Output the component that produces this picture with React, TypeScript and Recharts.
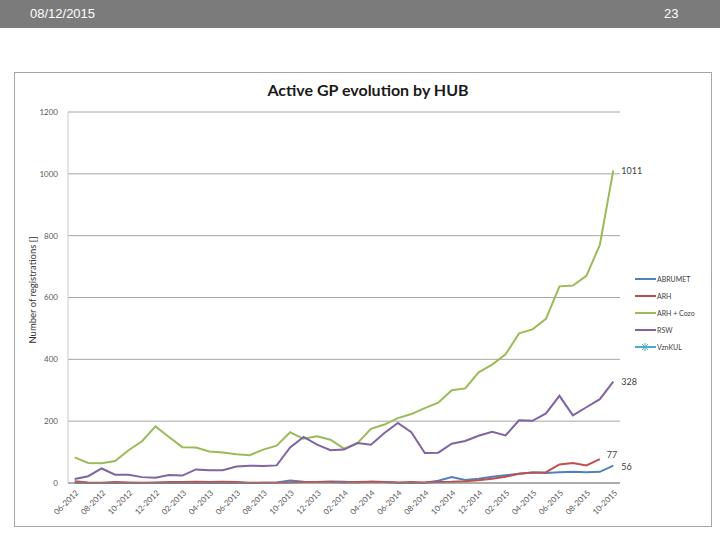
import React from "react";
import { LineChart, Line, XAxis, YAxis, CartesianGrid, Legend, LabelList } from "recharts";

const MONTHS = [
  "06-2012", "07-2012", "08-2012", "09-2012", "10-2012", "11-2012", "12-2012",
  "01-2013", "02-2013", "03-2013", "04-2013", "05-2013", "06-2013", "07-2013",
  "08-2013", "09-2013", "10-2013", "11-2013", "12-2013", "01-2014", "02-2014",
  "03-2014", "04-2014", "05-2014", "06-2014", "07-2014", "08-2014", "09-2014",
  "10-2014", "11-2014", "12-2014", "01-2015", "02-2015", "03-2015", "04-2015",
  "05-2015", "06-2015", "07-2015", "08-2015", "09-2015", "10-2015",
];

const ABRUMET = [
  0, 0, 0, 0, 0, 0, 0, 0, 0, 0, 0, 0, 0, 0, 1, 2, 8, 4, 3, 5, 4,
  2, 4, 3, 1, 0, 1, 7, 19, 10, 14, 20, 25, 30, 34, 32, 35, 36, 35, 36, 56,
];
const ARH = [
  6, 2, 1, 3, 2, 1, 2, 3, 3, 4, 3, 4, 3, 1, 1, 1, 2, 3, 3, 3, 2,
  3, 4, 3, 2, 3, 2, 3, 4, 6, 9, 14, 20, 30, 34, 35, 60, 65, 57, 77, null,
];
const ARH_COZO = [
  83, 65, 64, 71, 106, 135, 183, 149, 116, 115, 102, 99, 93, 90, 108, 121, 164, 143, 151, 140, 111,
  129, 175, 189, 210, 223, 242, 260, 300, 306, 358, 383, 416, 484, 497, 531, 636, 639, 670, 770, 1011,
];
const RSW = [
  13, 22, 47, 27, 27, 19, 17, 26, 24, 44, 41, 41, 53, 56, 55, 57, 115, 149, 124, 106, 108,
  129, 124, 162, 194, 164, 97, 98, 127, 136, 153, 166, 154, 203, 201, 225, 282, 219, 245, 271, 328,
];
const VZNKUL: (number | null)[] = MONTHS.map(() => null);

const Y_TICKS = [0, 200, 400, 600, 800, 1000, 1200];

const SERIES = [
  { key: "abrumet", name: "ABRUMET", color: "#4F81BD", values: ABRUMET },
  { key: "arh", name: "ARH", color: "#C0504D", values: ARH },
  { key: "arhCozo", name: "ARH + Cozo", color: "#9BBB59", values: ARH_COZO },
  { key: "rsw", name: "RSW", color: "#8064A2", values: RSW },
  { key: "vznkul", name: "VznKUL", color: "#4BACC6", values: VZNKUL },
];

const data = MONTHS.map((m, i) => {
  const row: Record<string, string | number | null> = { month: m };
  SERIES.forEach((s) => (row[s.key] = s.values[i]));
  return row;
});

const FONT = "Lato, 'Open Sans', sans-serif";

function lastIndex(values: (number | null)[]) {
  for (let i = values.length - 1; i >= 0; i--) if (values[i] != null) return i;
  return -1;
}

// only label the final point of each series
const endLabel = (idx: number, dx: number, dy: number) => (props: any) => {
  const { x, y, value, index } = props;
  if (index !== idx || value == null) return null;
  return (
    <text x={x + dx} y={y + dy} fontSize={9} fill="#404040" fontFamily={FONT} dominantBaseline="middle">
      {value}
    </text>
  );
};

const XTick = ({ x, y, payload }: any) => (
  <text
    x={x + 3}
    y={y + 1}
    transform={`rotate(-45 ${x + 3} ${y + 1})`}
    textAnchor="end"
    dominantBaseline="middle"
    fontSize={8}
    fill="#595959"
    fontFamily={FONT}
  >
    {payload.value}
  </text>
);

const LegendBox = () => (
  <div style={{ fontFamily: FONT, fontSize: 7, color: "#404040" }}>
    {SERIES.map((s) => (
      <div key={s.key} style={{ display: "flex", alignItems: "center", height: 17.2 }}>
        <svg width={21} height={8} style={{ marginRight: 1 }}>
          <line x1={0} y1={4} x2={21} y2={4} stroke={s.color} strokeWidth={2} />
          {s.key === "vznkul" && (
            <g stroke={s.color} strokeWidth={1}>
              <line x1={7} y1={1} x2={13} y2={7} />
              <line x1={7} y1={7} x2={13} y2={1} />
              <line x1={10} y1={0} x2={10} y2={8} />
            </g>
          )}
        </svg>
        <span>{s.name}</span>
      </div>
    ))}
  </div>
);

export default function App() {
  return (
    <div style={{ position: "absolute", left: 0, top: 0, width: 720, height: 540, background: "#fff" }}>
      <div
        style={{
          position: "absolute",
          left: 0,
          top: 0,
          width: 720,
          height: 28,
          background: "#7b7b7b",
          color: "#fff",
          fontFamily: "'Liberation Sans Narrow', 'Liberation Sans', sans-serif",
          fontSize: 13,
          lineHeight: "28px",
        }}
      >
        <span style={{ position: "absolute", left: 30 }}>08/12/2015</span>
        <span style={{ position: "absolute", left: 664 }}>23</span>
      </div>

      <div
        style={{
          position: "absolute",
          left: 14,
          top: 72,
          width: 698,
          height: 455,
          boxSizing: "border-box",
          border: "1px solid #a6a6a6",
        }}
      />

      <div
        style={{
          position: "absolute",
          left: 0,
          top: 80,
          width: 736,
          textAlign: "center",
          fontFamily: FONT,
          fontWeight: 700,
          fontSize: 16,
          lineHeight: "20px",
          color: "#1a1a1a",
        }}
      >
        Active GP evolution by HUB
      </div>

      <div
        style={{
          position: "absolute",
          left: 33 - 80,
          top: 290 - 7,
          width: 160,
          height: 14,
          lineHeight: "14px",
          textAlign: "center",
          transform: "rotate(-90deg)",
          fontFamily: FONT,
          fontSize: 9.5,
          color: "#333",
        }}
      >
        Number of registrations []
      </div>

      <div style={{ position: "absolute", left: 14, top: 72 }}>
        <LineChart width={698} height={455} data={data} margin={{ top: 40, right: 92, bottom: 0, left: 24 }}>
          <CartesianGrid vertical={false} stroke="#a6a6a6" />
          <XAxis
            dataKey="month"
            interval={1}
            height={44}
            padding={{ left: 6.7, right: 6.7 }}
            tickLine={false}
            axisLine={{ stroke: "#868686" }}
            tick={<XTick />}
          />
          <YAxis
            width={30}
            domain={[0, 1200]}
            ticks={Y_TICKS}
            tickLine={false}
            axisLine={{ stroke: "#c8c8c8" }}
            tickMargin={4}
            tick={{ fontSize: 8, fill: "#595959", fontFamily: FONT }}
          />
          <Legend
            layout="vertical"
            align="center"
            verticalAlign="middle"
            wrapperStyle={{ left: 621, top: 198, width: 80 }}
            content={<LegendBox />}
          />
          <Line type="linear" dataKey="abrumet" name="ABRUMET" stroke="#4F81BD" strokeWidth={2} dot={false} isAnimationActive={false}>
            <LabelList dataKey="abrumet" content={endLabel(lastIndex(ABRUMET), 8, 2)} />
          </Line>
          <Line type="linear" dataKey="arh" name="ARH" stroke="#C0504D" strokeWidth={2} dot={false} isAnimationActive={false}>
            <LabelList dataKey="arh" content={endLabel(lastIndex(ARH), 7, -3)} />
          </Line>
          <Line type="linear" dataKey="arhCozo" name="ARH + Cozo" stroke="#9BBB59" strokeWidth={2} dot={false} isAnimationActive={false}>
            <LabelList dataKey="arhCozo" content={endLabel(lastIndex(ARH_COZO), 8, 1)} />
          </Line>
          <Line type="linear" dataKey="rsw" name="RSW" stroke="#8064A2" strokeWidth={2} dot={false} isAnimationActive={false}>
            <LabelList dataKey="rsw" content={endLabel(lastIndex(RSW), 8, 1)} />
          </Line>
          <Line type="linear" dataKey="vznkul" name="VznKUL" stroke="#4BACC6" strokeWidth={2} dot={false} isAnimationActive={false} />
        </LineChart>
      </div>
    </div>
  );
}
